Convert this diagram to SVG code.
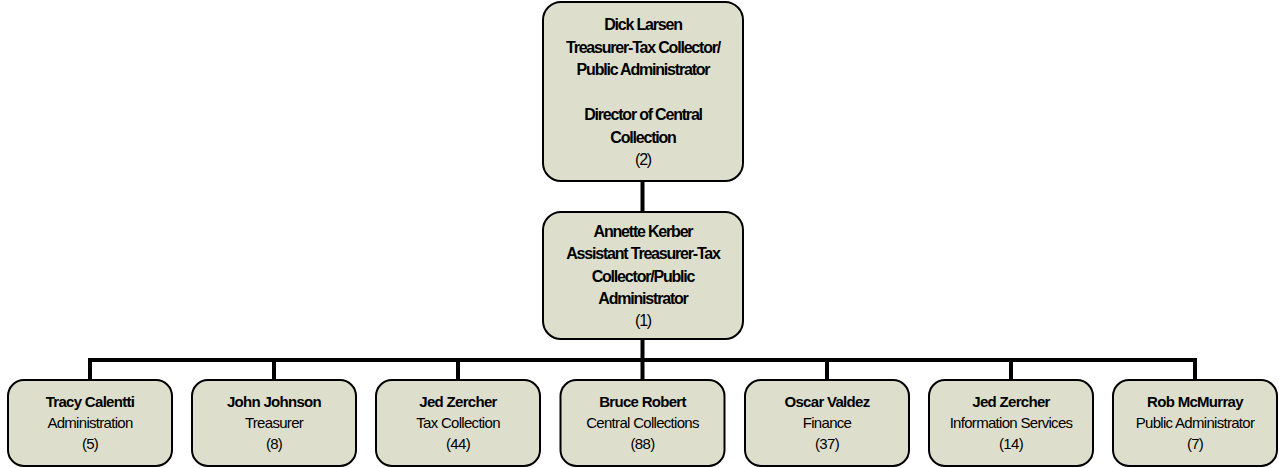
<svg xmlns="http://www.w3.org/2000/svg" width="1279" height="468" viewBox="0 0 1279 468">
<style>
.box{fill:#dddfcc;stroke:#000;stroke-width:2}
.t{font-family:"Liberation Sans",Arial,sans-serif;font-size:16px;letter-spacing:-1.2px;text-anchor:middle;fill:#000}
.s{font-family:"Liberation Sans",Arial,sans-serif;font-size:15px;letter-spacing:-0.7px;text-anchor:middle;fill:#000}
.b{font-weight:bold}
.c{fill:none;stroke:#000;stroke-width:4}
</style>
<rect width="1279" height="468" fill="#fff"/>
<g id="connectors">
<path class="c" d="M642.5 181V212M642.5 339V360M90 360H1195M90 358V380M274 358V380M458 358V380M642.5 358V380M827 358V380M1011 358V380M1195 358V380"/>
</g>
<g id="n-larsen">
<rect class="box" x="543" y="2" width="200" height="179" rx="18"/>
<text class="t b" x="643" y="30">Dick Larsen</text>
<text class="t b" x="643" y="52.5">Treasurer-Tax Collector/</text>
<text class="t b" x="643" y="75">Public Administrator</text>
<text class="t b" x="643" y="120">Director of Central</text>
<text class="t b" x="643" y="142.5">Collection</text>
<text class="t" x="643" y="165">(2)</text>
</g>
<g id="n-kerber">
<rect class="box" x="543" y="212" width="200" height="127" rx="18"/>
<text class="t b" x="643" y="237">Annette Kerber</text>
<text class="t b" x="643" y="259">Assistant Treasurer-Tax</text>
<text class="t b" x="643" y="281.5">Collector/Public</text>
<text class="t b" x="643" y="304">Administrator</text>
<text class="t" x="643" y="326">(1)</text>
</g>
<g id="n-calentti">
<rect class="box" x="8" y="380" width="164" height="86" rx="16"/>
<text class="s b" x="90" y="407">Tracy Calentti</text>
<text class="s" x="90" y="428">Administration</text>
<text class="s" x="90" y="449">(5)</text>
</g>
<g id="n-johnson">
<rect class="box" x="192" y="380" width="164" height="86" rx="16"/>
<text class="s b" x="274" y="407">John Johnson</text>
<text class="s" x="274" y="428">Treasurer</text>
<text class="s" x="274" y="449">(8)</text>
</g>
<g id="n-zercher-tax">
<rect class="box" x="376" y="380" width="164" height="86" rx="16"/>
<text class="s b" x="458" y="407">Jed Zercher</text>
<text class="s" x="458" y="428">Tax Collection</text>
<text class="s" x="458" y="449">(44)</text>
</g>
<g id="n-robert">
<rect class="box" x="560.5" y="380" width="164" height="86" rx="16"/>
<text class="s b" x="642.5" y="407">Bruce Robert</text>
<text class="s" x="642.5" y="428">Central Collections</text>
<text class="s" x="642.5" y="449">(88)</text>
</g>
<g id="n-valdez">
<rect class="box" x="745" y="380" width="164" height="86" rx="16"/>
<text class="s b" x="827" y="407">Oscar Valdez</text>
<text class="s" x="827" y="428">Finance</text>
<text class="s" x="827" y="449">(37)</text>
</g>
<g id="n-zercher-is">
<rect class="box" x="929" y="380" width="164" height="86" rx="16"/>
<text class="s b" x="1011" y="407">Jed Zercher</text>
<text class="s" x="1011" y="428">Information Services</text>
<text class="s" x="1011" y="449">(14)</text>
</g>
<g id="n-mcmurray">
<rect class="box" x="1113" y="380" width="164" height="86" rx="16"/>
<text class="s b" x="1195" y="407">Rob McMurray</text>
<text class="s" x="1195" y="428">Public Administrator</text>
<text class="s" x="1195" y="449">(7)</text>
</g>
</svg>
